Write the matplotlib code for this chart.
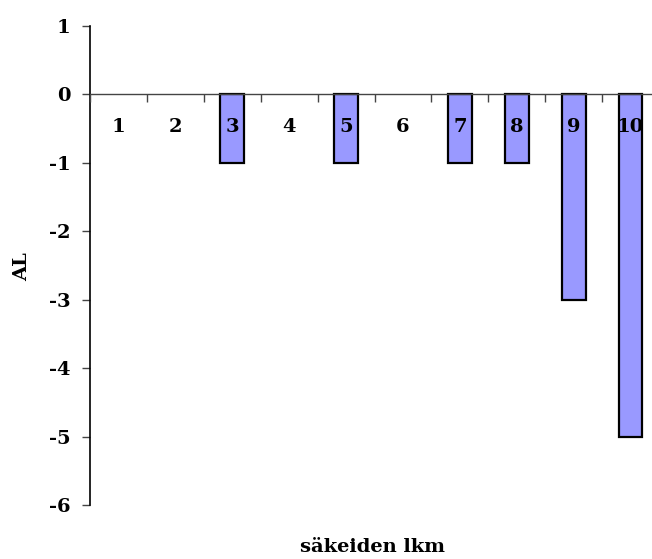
import matplotlib
matplotlib.use("Agg")
import matplotlib.pyplot as plt
from matplotlib.ticker import FixedLocator

# Data
categories = ["1", "2", "3", "4", "5", "6", "7", "8", "9", "10"]
al_values = [0, 0, -1, 0, -1, 0, -1, -1, -3, -5]
y_ticks = [1, 0, -1, -2, -3, -4, -5, -6]
y_tick_labels = ["1", "0", "-1", "-2", "-3", "-4", "-5", "-6"]

plt.rcParams["font.family"] = ["DejaVu Serif"]
plt.rcParams["font.weight"] = "bold"
plt.rcParams["axes.unicode_minus"] = False
FS = 14

fig = plt.figure(figsize=(6.52, 5.59), dpi=100)
ax = fig.add_axes([90 / 652, 1 - 505.3 / 559, 569 / 652, (505.3 - 25.7) / 559])

x = list(range(1, len(categories) + 1))
edge_widths = [1.6 if v != 0 else 0 for v in al_values]
ax.bar(x, al_values, width=0.42, color="#9999FF", edgecolor="black",
       linewidth=edge_widths, zorder=1)

ax.set_xlim(0.5, len(categories) + 0.5)
ax.set_ylim(-6, 1)
ax.set_yticks(y_ticks)
ax.set_yticklabels(y_tick_labels, fontsize=FS, fontweight="bold")

# Category axis sits at y = 0, ticks at category boundaries
ax.spines["bottom"].set_position(("data", 0))
ax.spines["bottom"].set_color("#444444")
ax.spines["bottom"].set_linewidth(1.0)
ax.spines["top"].set_visible(False)
ax.spines["right"].set_visible(False)
ax.spines["left"].set_linewidth(1.2)

ax.set_xticks(x)
ax.set_xticklabels(categories, fontsize=FS, fontweight="bold")
ax.xaxis.set_minor_locator(FixedLocator([i + 0.5 for i in range(0, len(categories) + 1)]))
ax.tick_params(axis="x", which="major", length=0, pad=17)
ax.tick_params(axis="x", which="minor", length=6, direction="out", color="#444444", width=1.0)
ax.tick_params(axis="y", which="major", length=6, direction="out", width=1.0, pad=8, color="#444444")
ax.xaxis.set_zorder(3)

fig.text(373 / 652, 1 - 552 / 559, "säkeiden lkm", ha="center", va="baseline",
         fontsize=FS, fontweight="bold")
fig.text(22 / 652, 1 - 267 / 559, "AL", ha="center", va="center",
         rotation=90, fontsize=FS, fontweight="bold")

fig.savefig("out.png", dpi=100)
